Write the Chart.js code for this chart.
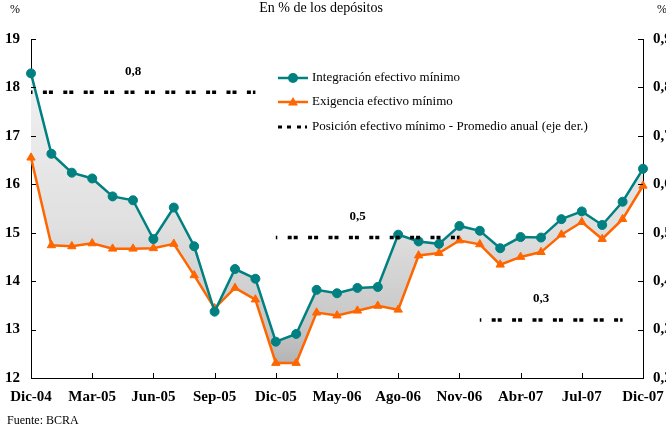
<!DOCTYPE html>
<html>
<head>
<meta charset="utf-8">
<script src="https://cdn.jsdelivr.net/npm/chart.js@4.4.0/dist/chart.umd.min.js"></script>
<style>
  body { margin: 0; background: #fff; }
  #wrap { position: relative; width: 666px; height: 430px; }
</style>
</head>
<body>
<div id="wrap"><canvas id="chart" width="666" height="430"></canvas></div>
<script>
// eje x: un rotulo cada tres puntos
const labels = [
    'Dic-04', '', '', 'Mar-05', '', '', 'Jun-05', '', '', 'Sep-05', '', '',
    'Dic-05', '', '', 'May-06', '', '', 'Ago-06', '', '', 'Nov-06', '', '',
    'Abr-07', '', '', 'Jul-07', '', '', 'Dic-07'
];

const integracion = [
    18.29, 16.63, 16.24, 16.12, 15.75, 15.67, 14.87, 15.52, 14.72, 13.37, 14.25, 14.05,
    12.75, 12.91, 13.82, 13.75, 13.86, 13.88, 14.96, 14.82, 14.77, 15.14, 15.04, 14.68,
    14.91, 14.90, 15.28, 15.44, 15.16, 15.64, 16.32
];

const exigencia = [
    16.55, 14.74, 14.72, 14.78, 14.67, 14.67, 14.68, 14.77, 14.12, 13.44, 13.86, 13.62,
    12.31, 12.31, 13.35, 13.29, 13.39, 13.49, 13.41, 14.53, 14.58, 14.84, 14.76, 14.34,
    14.50, 14.60, 14.96, 15.22, 14.87, 15.28, 15.97
];

// promedio anual (eje der.)
const posicion = [
    0.79, 0.79, 0.79, 0.79, 0.79, 0.79, 0.79, 0.79, 0.79, 0.79, 0.79, 0.79,
    0.49, 0.49, 0.49, 0.49, 0.49, 0.49, 0.49, 0.49, 0.49, 0.49,
    0.32, 0.32, 0.32, 0.32, 0.32, 0.32, 0.32, 0.32, null
];
const posicionRotulos = ['0,8', '0,5', '0,3'];

const leftTicks = [12, 19];
const rightTicks = [0.2, 0.9];

const TEAL = '#008080';
const ORANGE = '#ff6600';
const SERIF = '"Liberation Serif", "DejaVu Serif", serif';

function grayFill(ctx) {
    const area = ctx.chart.chartArea;
    if (!area) return 'rgba(200,200,200,0.6)';
    const g = ctx.chart.ctx.createLinearGradient(0, area.top, 0, area.bottom);
    g.addColorStop(0, '#f5f5f5');
    g.addColorStop(0.55, '#e0e0e0');
    g.addColorStop(0.85, '#c6c6c6');
    g.addColorStop(1, '#adadad');
    return g;
}

// textos, marcas de eje hacia adentro, rotulos y leyenda
const extras = {
    id: 'extras',
    afterDraw(chart) {
        const ctx = chart.ctx;
        const x = chart.scales.x, yl = chart.scales.y, yr = chart.scales.y1;
        const a = chart.chartArea;
        ctx.save();
        ctx.strokeStyle = '#000';
        ctx.lineWidth = 1;
        ctx.beginPath();
        for (let v = leftTicks[0]; v <= leftTicks[1]; v++) {
            const py = Math.round(yl.getPixelForValue(v)) + 0.5;
            ctx.moveTo(a.left, py); ctx.lineTo(a.left + 5, py);
        }
        for (let i = 0; i <= 7; i++) {
            const py = Math.round(yr.getPixelForValue(rightTicks[0] + i / 10)) + 0.5;
            ctx.moveTo(a.right - 5, py); ctx.lineTo(a.right, py);
        }
        labels.forEach((l, i) => {
            if (!l) return;
            const px = Math.round(x.getPixelForValue(i)) + 0.5;
            ctx.moveTo(px, a.bottom); ctx.lineTo(px, a.bottom - 5);
        });
        ctx.stroke();

        ctx.fillStyle = '#000';
        ctx.textBaseline = 'middle';
        ctx.textAlign = 'center';
        ctx.font = '14px ' + SERIF;
        ctx.fillText('En % de los depósitos', 321, 8);
        ctx.font = '12px ' + SERIF;
        ctx.fillText('%', 15, 10);
        ctx.fillText('%', 662, 10);

        // rotulos de cada tramo del promedio anual
        ctx.font = 'bold 13px ' + SERIF;
        let start = 0, k = 0;
        for (let i = 1; i <= posicion.length; i++) {
            if (posicion[i] !== posicion[start]) {
                if (posicion[start] !== null) {
                    const mid = x.getPixelForValue((start + i - 1) / 2) - 10;
                    const py = yr.getPixelForValue(posicion[start]) - 21;
                    ctx.fillText(posicionRotulos[k++], mid, py);
                }
                start = i;
            }
        }

        ctx.textAlign = 'left';
        ctx.font = '12px ' + SERIF;
        ctx.fillText('Fuente: BCRA', 7, 421);

        // leyenda
        const lx = 278, rows = [78, 102, 127];
        ctx.font = '13px ' + SERIF;
        ctx.lineWidth = 2.5;
        ctx.strokeStyle = TEAL;
        ctx.beginPath(); ctx.moveTo(lx, rows[0]); ctx.lineTo(lx + 30, rows[0]); ctx.stroke();
        ctx.fillStyle = TEAL;
        ctx.beginPath(); ctx.arc(lx + 15, rows[0], 5, 0, Math.PI * 2); ctx.fill();
        ctx.strokeStyle = ORANGE;
        ctx.beginPath(); ctx.moveTo(lx, rows[1]); ctx.lineTo(lx + 30, rows[1]); ctx.stroke();
        ctx.fillStyle = ORANGE;
        ctx.beginPath();
        ctx.moveTo(lx + 15, rows[1] - 5); ctx.lineTo(lx + 20, rows[1] + 3.5); ctx.lineTo(lx + 10, rows[1] + 3.5);
        ctx.closePath(); ctx.fill();
        ctx.fillStyle = '#000';
        [0, 9, 19, 27].forEach(o => ctx.fillRect(lx + o, rows[2] - 1.5, o === 27 ? 2 : 4, 3));
        ctx.fillText('Integración efectivo mínimo', lx + 34, rows[0]);
        ctx.fillText('Exigencia efectivo mínimo', lx + 34, rows[1]);
        ctx.fillText('Posición efectivo mínimo - Promedio anual (eje der.)', lx + 34, rows[2]);
        ctx.restore();
    }
};

new Chart(document.getElementById('chart'), {
    type: 'line',
    data: {
        labels: labels,
        datasets: [
            {
                label: 'Integración efectivo mínimo',
                data: integracion,
                yAxisID: 'y',
                order: 1,
                borderColor: TEAL,
                borderWidth: 2.5,
                pointStyle: 'circle',
                pointRadius: 4.5,
                pointBackgroundColor: TEAL,
                pointBorderColor: TEAL,
                pointBorderWidth: 1,
                tension: 0,
                fill: { target: '+1', above: grayFill, below: grayFill },
                backgroundColor: grayFill
            },
            {
                label: 'Exigencia efectivo mínimo',
                data: exigencia,
                yAxisID: 'y',
                order: 2,
                borderColor: ORANGE,
                borderWidth: 2.5,
                pointStyle: 'triangle',
                pointRadius: 4.8,
                pointBackgroundColor: ORANGE,
                pointBorderColor: ORANGE,
                pointBorderWidth: 1,
                tension: 0,
                fill: false
            },
            {
                label: 'Posición efectivo mínimo - Promedio anual (eje der.)',
                data: posicion,
                yAxisID: 'y1',
                order: 0,
                borderColor: '#000',
                borderWidth: 3.5,
                borderDash: [4, 2, 4, 10.4],
                borderDashOffset: 8.5,
                borderCapStyle: 'butt',
                pointRadius: 0,
                fill: false,
                spanGaps: false,
                segment: {
                    borderColor: c => c.p0.parsed.y !== c.p1.parsed.y ? 'transparent' : '#000'
                }
            }
        ]
    },
    options: {
        responsive: false,
        animation: false,
        devicePixelRatio: 1,
        layout: { padding: { top: 39, left: 0, right: 0, bottom: 0 } },
        plugins: {
            legend: { display: false },
            tooltip: { enabled: false },
            filler: { drawTime: 'beforeDatasetsDraw' }
        },
        scales: {
            x: {
                offset: false,
                grid: { display: false },
                border: { display: true, color: '#000', width: 1 },
                ticks: {
                    autoSkip: false,
                    maxRotation: 0,
                    color: '#000',
                    padding: 2,
                    font: { family: SERIF, size: 15, weight: 'bold' }
                },
                afterFit: s => { s.height = 52; s.paddingLeft = 0; s.paddingRight = 0; }
            },
            y: {
                position: 'left',
                min: leftTicks[0],
                max: leftTicks[1],
                grid: { display: false },
                border: { display: true, color: '#000', width: 1 },
                ticks: {
                    stepSize: 1,
                    color: '#000',
                    padding: 3,
                    font: { family: SERIF, size: 15, weight: 'bold' }
                },
                afterFit: s => { s.width = 31; }
            },
            y1: {
                position: 'right',
                min: rightTicks[0],
                max: rightTicks[1],
                grid: { display: false },
                border: { display: true, color: '#000', width: 1 },
                ticks: {
                    stepSize: 0.1,
                    color: '#000',
                    padding: 2,
                    font: { family: SERIF, size: 15, weight: 'bold' },
                    callback: v => v.toFixed(1).replace('.', ',')
                },
                afterFit: s => { s.width = 23; }
            }
        }
    },
    plugins: [extras]
});
</script>
</body>
</html>
